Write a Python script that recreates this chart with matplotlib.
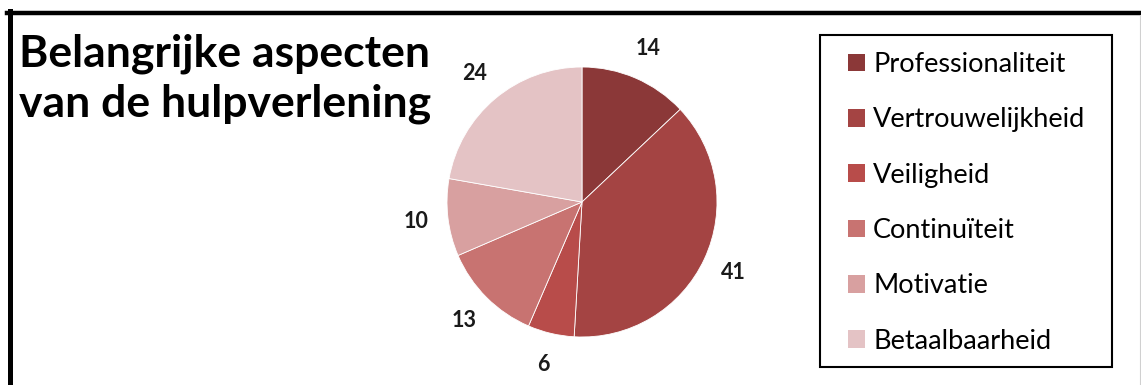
import matplotlib
matplotlib.use('Agg')
import matplotlib.pyplot as plt
from matplotlib.lines import Line2D
from matplotlib.patches import Rectangle

plt.rcParams['font.family'] = ['Lato', 'DejaVu Sans']

# aspects of care and how often they were mentioned
aspects = ['Professionaliteit', 'Vertrouwelijkheid', 'Veiligheid',
           'Continuïteit', 'Motivatie', 'Betaalbaarheid']
counts = [14, 41, 6, 13, 10, 24]
colors = ['#8b3838', '#a44443', '#b84c4a', '#c87371', '#d8a0a0', '#e4c3c5']
title_lines = ['Belangrijke aspecten', 'van de hulpverlening']

W, H = 1141, 385
fig = plt.figure(figsize=(W / 100, H / 100), dpi=100)
fig.patch.set_facecolor('white')

# outer frame (top and left edges, right edge faint)
fig.add_artist(Line2D([7 / W, 1], [1 - 13 / H, 1 - 13 / H], color='black',
                      lw=3.2, transform=fig.transFigure))
fig.add_artist(Line2D([9.5 / W, 9.5 / W], [0, 1 - 11 / H], color='black',
                      lw=3.6, transform=fig.transFigure))
fig.add_artist(Line2D([1139.5 / W, 1139.5 / W], [0, 1 - 15 / H], color='#d0d0d0',
                      lw=0.8, transform=fig.transFigure))

# pie centred at (582, 202) px with radius 135 px
cx, cy, r = 582, 202, 135
ax = fig.add_axes([(cx - r) / W, 1 - (cy + r) / H, 2 * r / W, 2 * r / H])
wedges, texts = ax.pie(counts, colors=colors, startangle=90, counterclock=False,
                       labels=[str(c) for c in counts], labeldistance=1.24,
                       wedgeprops=dict(edgecolor='white', linewidth=0.6),
                       textprops=dict(fontsize=15.5, fontweight='bold', color='#1a1a1a'))
for t in texts:
    t.set_horizontalalignment('center')
    t.set_verticalalignment('center')
ax.set_xlim(-1, 1)
ax.set_ylim(-1, 1)
ax.set_aspect('equal')

# two-line title, baselines at 67 and 117 px
for line, base in zip(title_lines, [67, 117]):
    fig.text(19 / W, 1 - base / H, line, fontsize=32, fontweight='bold',
             ha='left', va='baseline', color='black')

# legend box drawn separately so the entries can be inset freely
fig.add_artist(Rectangle((820 / W, 1 - 367 / H), (1112 - 820) / W, (367 - 35) / H,
                         transform=fig.transFigure, facecolor='none',
                         edgecolor='black', lw=1.5))
leg = fig.legend(wedges, aspects, loc='upper left',
                 bbox_to_anchor=(848 / W, 1 - 52 / H),
                 fontsize=19.5, frameon=False, borderpad=0, borderaxespad=0,
                 labelspacing=1.12, handlelength=0.63, handleheight=0.63,
                 handletextpad=0.3)
for h in leg.legend_handles:
    h.set_edgecolor('none')

fig.savefig('out.png', dpi=100, facecolor='white')
